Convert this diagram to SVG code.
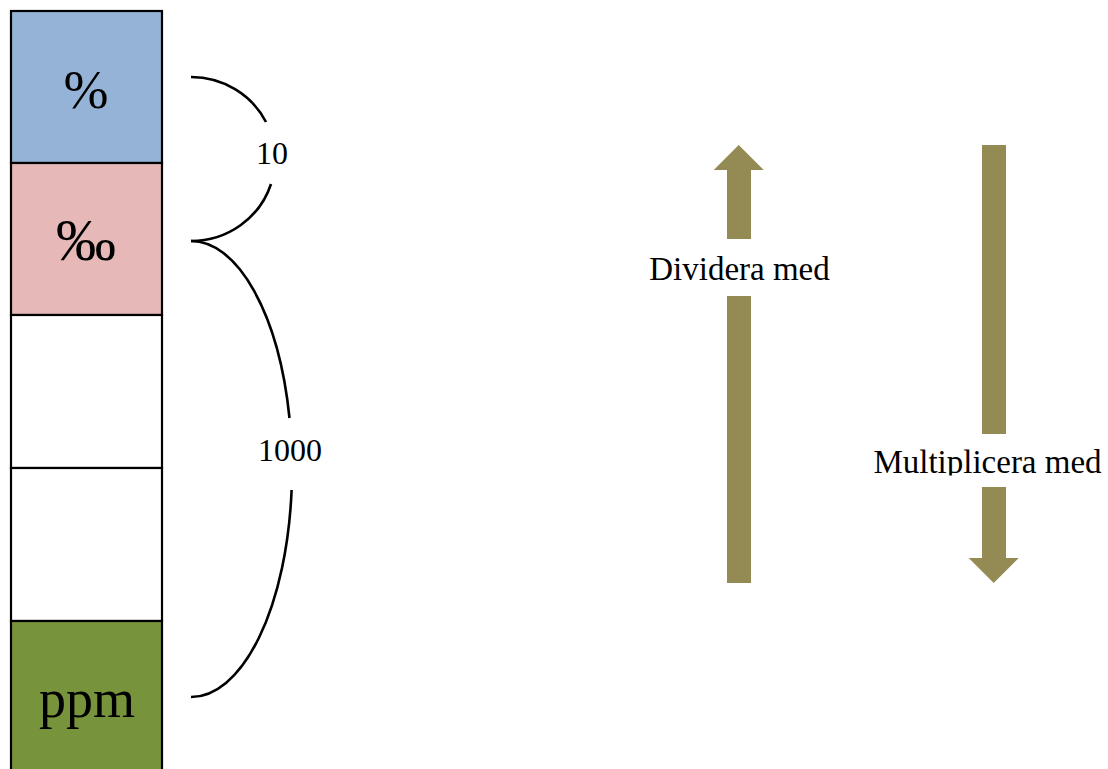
<svg xmlns="http://www.w3.org/2000/svg" width="1108" height="769" viewBox="0 0 1108 769">
<style>
.box{stroke:#000;stroke-width:2.2}
.big{font-family:"Liberation Serif","Times New Roman",serif;font-size:54px;fill:#000;text-anchor:middle}
.lbl{font-family:"Liberation Serif","Times New Roman",serif;font-size:32px;fill:#000;text-anchor:middle}
.brace{fill:none;stroke:#000;stroke-width:2.6}
.arrow{fill:#948A54}
</style>
<defs>
<clipPath id="clipDiv"><rect x="600" y="240" width="300" height="41.5"/></clipPath>
<clipPath id="clipMul"><rect x="860" y="436" width="248" height="39.5"/></clipPath>
</defs>
<rect width="1108" height="769" fill="#fff"/>
<g id="node-percent">
<rect class="box" x="11" y="11" width="151" height="152" fill="#95B3D7"/>
<text class="big" x="86" y="108">%</text>
</g>
<g id="node-permille">
<rect class="box" x="11" y="163" width="151" height="152" fill="#E6B8B7"/>
<text class="big" x="86" y="260" style="font-size:60px">‰</text>
</g>
<g id="node-empty1">
<rect class="box" x="11" y="315" width="151" height="153" fill="#fff"/>
</g>
<g id="node-empty2">
<rect class="box" x="11" y="468" width="151" height="153" fill="#fff"/>
</g>
<g id="node-ppm">
<rect class="box" x="11" y="621" width="151" height="160" fill="#77933C"/>
<text class="big" x="87" y="717">ppm</text>
</g>
<g id="connectors">
<path class="brace" d="M191,77 A84,82 0 0 1 266,122"/>
<path class="brace" d="M271,184 A84,82 0 0 1 191,241"/>
<path class="brace" d="M191,241 A101,228 0 0 1 289.5,418"/>
<path class="brace" d="M291.6,490 A101,228 0 0 1 191,697"/>
<text class="lbl" x="272" y="164">10</text>
<text class="lbl" x="290" y="461">1000</text>
</g>
<g id="arrow-up">
<polygon class="arrow" points="738.7,145 763.7,170 751,170 751,239 727,239 727,170 713.7,170"/>
<rect class="arrow" x="727" y="296" width="24" height="287"/>
<text clip-path="url(#clipDiv)" style="font-family:'Liberation Serif','Times New Roman',serif;font-size:33px;fill:#000;text-anchor:middle" x="739.5" y="280">Dividera med</text>
</g>
<g id="arrow-down">
<rect class="arrow" x="982" y="145" width="24" height="289"/>
<polygon class="arrow" points="982,487 1006,487 1006,558 1018.7,558 993.7,583 968.7,558 982,558"/>
<text clip-path="url(#clipMul)" style="font-family:'Liberation Serif','Times New Roman',serif;font-size:33px;fill:#000;text-anchor:middle" x="987.5" y="473">Multiplicera med</text>
</g>
</svg>
